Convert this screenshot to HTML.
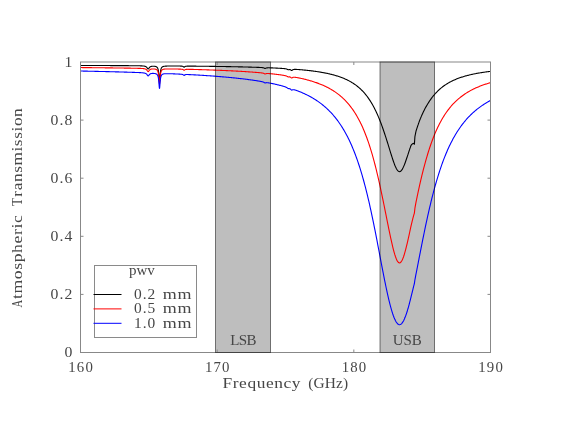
<!DOCTYPE html>
<html><head><meta charset="utf-8"><title>Atmospheric Transmission</title>
<style>html,body{margin:0;padding:0;background:#fff}body{width:564px;height:436px;overflow:hidden;font-family:"Liberation Serif",serif}</style></head>
<body>
<svg width="564" height="436" viewBox="0 0 564 436" style="display:block;will-change:transform">
<rect x="0" y="0" width="564" height="436" fill="#fff"/>
<rect x="215.5" y="62.0" width="55.0" height="290.5" fill="#bebebe"/>
<rect x="380.0" y="62.0" width="54.5" height="290.5" fill="#bebebe"/>
<path d="M80.50 65.46 L81.18 65.46 L81.87 65.47 L82.55 65.47 L83.23 65.47 L83.92 65.47 L84.60 65.48 L85.28 65.48 L85.97 65.48 L86.65 65.48 L87.33 65.48 L88.02 65.49 L88.70 65.49 L89.38 65.49 L90.07 65.49 L90.75 65.50 L91.43 65.50 L92.12 65.50 L92.80 65.50 L93.48 65.51 L94.17 65.51 L94.85 65.51 L95.53 65.51 L96.22 65.52 L96.90 65.52 L97.58 65.52 L98.27 65.53 L98.95 65.53 L99.63 65.53 L100.32 65.53 L101.00 65.54 L101.68 65.54 L102.37 65.54 L103.05 65.54 L103.73 65.55 L104.42 65.55 L105.10 65.55 L105.78 65.56 L106.47 65.56 L107.15 65.56 L107.83 65.57 L108.52 65.57 L109.20 65.57 L109.88 65.57 L110.57 65.58 L111.25 65.58 L111.93 65.58 L112.62 65.59 L113.30 65.59 L113.98 65.59 L114.67 65.60 L115.35 65.60 L116.03 65.60 L116.72 65.61 L117.40 65.61 L118.08 65.61 L118.77 65.62 L119.45 65.62 L120.13 65.62 L120.82 65.63 L121.50 65.63 L122.18 65.64 L122.87 65.64 L123.55 65.64 L124.23 65.65 L124.92 65.65 L125.60 65.66 L126.28 65.66 L126.97 65.67 L127.65 65.67 L128.33 65.67 L129.02 65.68 L129.70 65.68 L130.38 65.69 L131.07 65.70 L131.75 65.70 L132.43 65.71 L133.12 65.71 L133.80 65.72 L134.48 65.73 L135.17 65.74 L135.85 65.74 L136.53 65.75 L137.22 65.76 L137.90 65.78 L138.58 65.79 L139.27 65.80 L139.95 65.82 L140.63 65.84 L141.32 65.87 L141.45 65.87 L141.59 65.88 L141.73 65.89 L141.86 65.89 L142.00 65.90 L142.14 65.91 L142.27 65.92 L142.41 65.93 L142.55 65.94 L142.68 65.95 L142.82 65.96 L142.96 65.97 L143.09 65.98 L143.23 65.99 L143.37 66.00 L143.50 66.02 L143.64 66.03 L143.78 66.05 L143.91 66.07 L144.05 66.09 L144.19 66.11 L144.32 66.13 L144.46 66.16 L144.60 66.19 L144.73 66.22 L144.87 66.25 L145.01 66.29 L145.14 66.33 L145.28 66.37 L145.42 66.42 L145.55 66.47 L145.69 66.54 L145.83 66.60 L145.96 66.68 L146.10 66.77 L146.24 66.86 L146.37 66.97 L146.51 67.09 L146.65 67.23 L146.78 67.38 L146.92 67.55 L147.06 67.73 L147.19 67.92 L147.33 68.13 L147.47 68.33 L147.60 68.53 L147.74 68.70 L147.88 68.84 L148.01 68.93 L148.15 68.97 L148.29 68.94 L148.42 68.85 L148.56 68.72 L148.70 68.55 L148.83 68.36 L148.97 68.16 L149.11 67.96 L149.24 67.77 L149.38 67.59 L149.52 67.43 L149.65 67.29 L149.79 67.16 L149.93 67.04 L150.06 66.94 L150.20 66.85 L150.34 66.77 L150.47 66.70 L150.61 66.63 L150.75 66.58 L150.88 66.53 L151.02 66.49 L151.16 66.45 L151.29 66.41 L151.43 66.39 L151.57 66.36 L151.70 66.34 L151.84 66.32 L151.98 66.30 L152.11 66.29 L152.25 66.27 L152.39 66.26 L152.52 66.25 L152.66 66.25 L152.80 66.24 L152.93 66.24 L153.07 66.23 L153.21 66.23 L153.34 66.23 L153.48 66.24 L153.62 66.24 L153.75 66.24 L153.89 66.25 L154.03 66.26 L154.16 66.27 L154.30 66.28 L154.44 66.29 L154.57 66.30 L154.71 66.32 L154.85 66.34 L154.98 66.36 L155.12 66.38 L155.26 66.41 L155.39 66.44 L155.53 66.47 L155.67 66.51 L155.80 66.55 L155.94 66.59 L156.08 66.64 L156.21 66.70 L156.35 66.77 L156.49 66.84 L156.62 66.92 L156.76 67.02 L156.90 67.13 L157.03 67.26 L157.17 67.41 L157.31 67.58 L157.44 67.78 L157.58 68.02 L157.72 68.31 L157.85 68.66 L157.99 69.08 L158.13 69.59 L158.26 70.21 L158.40 70.99 L158.54 71.94 L158.67 73.12 L158.81 74.54 L158.95 76.19 L159.08 77.99 L159.22 79.71 L159.36 81.00 L159.49 81.49 L159.63 81.00 L159.77 79.71 L159.90 77.99 L160.04 76.19 L160.18 74.54 L160.31 73.12 L160.45 71.94 L160.59 70.99 L160.72 70.21 L160.86 69.58 L161.00 69.07 L161.13 68.65 L161.27 68.31 L161.41 68.02 L161.54 67.78 L161.68 67.57 L161.82 67.40 L161.95 67.25 L162.09 67.12 L162.23 67.01 L162.36 66.91 L162.50 66.83 L162.64 66.75 L162.77 66.69 L162.91 66.63 L163.05 66.57 L163.18 66.53 L163.32 66.48 L163.46 66.45 L163.59 66.41 L163.73 66.38 L163.87 66.35 L164.00 66.33 L164.14 66.30 L164.28 66.28 L164.41 66.26 L164.55 66.24 L164.69 66.22 L164.82 66.21 L164.96 66.19 L165.10 66.18 L165.23 66.17 L165.37 66.16 L165.51 66.15 L165.64 66.14 L165.78 66.13 L165.92 66.12 L166.05 66.11 L166.19 66.10 L166.60 66.08 L167.28 66.06 L167.97 66.04 L168.65 66.03 L169.33 66.02 L170.02 66.01 L170.70 66.01 L171.38 66.00 L172.07 66.00 L172.75 66.00 L173.43 66.00 L174.12 66.00 L174.80 66.01 L175.48 66.01 L176.17 66.02 L176.85 66.02 L177.26 66.02 L177.40 66.03 L177.53 66.03 L177.67 66.03 L177.81 66.03 L177.94 66.03 L178.08 66.03 L178.22 66.04 L178.35 66.04 L178.49 66.04 L178.63 66.04 L178.76 66.04 L178.90 66.05 L179.04 66.05 L179.17 66.05 L179.31 66.05 L179.45 66.06 L179.58 66.06 L179.72 66.06 L179.86 66.06 L179.99 66.07 L180.13 66.07 L180.27 66.08 L180.40 66.08 L180.54 66.09 L180.68 66.09 L180.81 66.10 L180.95 66.10 L181.09 66.11 L181.22 66.12 L181.36 66.13 L181.50 66.14 L181.63 66.15 L181.77 66.16 L181.91 66.18 L182.04 66.20 L182.18 66.22 L182.32 66.24 L182.45 66.27 L182.59 66.31 L182.73 66.35 L182.86 66.40 L183.00 66.46 L183.14 66.53 L183.27 66.62 L183.41 66.72 L183.55 66.84 L183.68 66.97 L183.82 67.08 L183.96 67.17 L184.09 67.20 L184.23 67.17 L184.37 67.09 L184.50 66.97 L184.64 66.85 L184.78 66.74 L184.91 66.63 L185.05 66.55 L185.19 66.48 L185.32 66.42 L185.46 66.37 L185.60 66.33 L185.73 66.30 L185.87 66.27 L186.01 66.25 L186.14 66.23 L186.28 66.21 L186.42 66.20 L186.55 66.19 L186.69 66.18 L186.83 66.17 L186.96 66.16 L187.10 66.16 L187.24 66.15 L187.37 66.15 L187.51 66.15 L187.65 66.14 L187.78 66.14 L187.92 66.14 L188.06 66.14 L188.19 66.13 L188.33 66.13 L188.47 66.13 L188.60 66.13 L188.74 66.13 L188.88 66.13 L189.01 66.13 L189.15 66.13 L189.29 66.13 L189.42 66.13 L189.56 66.13 L189.70 66.13 L189.83 66.13 L189.97 66.13 L190.11 66.13 L190.24 66.13 L190.38 66.13 L190.52 66.13 L190.65 66.13 L190.79 66.13 L191.20 66.13 L191.88 66.14 L192.57 66.14 L193.25 66.15 L193.93 66.15 L194.62 66.16 L195.30 66.17 L195.98 66.17 L196.67 66.18 L197.35 66.19 L198.03 66.19 L198.72 66.20 L199.40 66.21 L200.08 66.22 L200.77 66.22 L201.45 66.23 L202.13 66.24 L202.82 66.25 L203.50 66.25 L204.18 66.26 L204.87 66.27 L205.55 66.28 L206.23 66.29 L206.92 66.30 L207.60 66.31 L208.28 66.31 L208.97 66.32 L209.65 66.33 L210.33 66.34 L211.02 66.35 L211.70 66.36 L212.38 66.37 L213.07 66.38 L213.75 66.39 L214.43 66.40 L215.12 66.41 L215.80 66.42 L216.48 66.43 L217.17 66.44 L217.85 66.45 L218.53 66.46 L219.22 66.47 L219.90 66.48 L220.58 66.49 L221.27 66.50 L221.95 66.52 L222.63 66.53 L223.32 66.54 L224.00 66.55 L224.68 66.56 L225.37 66.57 L226.05 66.59 L226.73 66.60 L227.42 66.61 L228.10 66.62 L228.78 66.64 L229.47 66.65 L230.15 66.66 L230.83 66.67 L231.52 66.69 L232.20 66.70 L232.88 66.71 L233.57 66.73 L234.25 66.74 L234.93 66.76 L235.62 66.77 L236.30 66.79 L236.98 66.80 L237.67 66.81 L238.35 66.83 L239.03 66.84 L239.72 66.86 L240.40 66.88 L241.08 66.89 L241.77 66.91 L242.45 66.92 L243.13 66.94 L243.82 66.96 L244.50 66.97 L245.18 66.99 L245.87 67.01 L246.55 67.03 L247.23 67.04 L247.92 67.06 L248.60 67.08 L249.28 67.10 L249.97 67.12 L250.65 67.14 L251.33 67.16 L252.02 67.18 L252.70 67.20 L253.38 67.22 L254.07 67.24 L254.75 67.26 L255.43 67.28 L256.12 67.31 L256.80 67.33 L257.48 67.35 L258.17 67.38 L258.30 67.38 L258.44 67.39 L258.58 67.40 L258.71 67.40 L258.85 67.41 L258.99 67.41 L259.12 67.42 L259.26 67.42 L259.40 67.43 L259.53 67.44 L259.67 67.44 L259.81 67.45 L259.94 67.45 L260.08 67.46 L260.22 67.47 L260.35 67.48 L260.49 67.48 L260.63 67.49 L260.76 67.50 L260.90 67.51 L261.04 67.51 L261.17 67.52 L261.31 67.53 L261.45 67.54 L261.58 67.55 L261.72 67.56 L261.86 67.57 L261.99 67.59 L262.13 67.60 L262.27 67.61 L262.40 67.63 L262.54 67.65 L262.68 67.67 L262.81 67.69 L262.95 67.71 L263.09 67.74 L263.22 67.77 L263.36 67.80 L263.50 67.84 L263.63 67.88 L263.77 67.93 L263.91 67.98 L264.04 68.04 L264.18 68.11 L264.32 68.18 L264.45 68.26 L264.59 68.33 L264.73 68.39 L264.86 68.43 L265.00 68.45 L265.14 68.44 L265.27 68.41 L265.41 68.36 L265.55 68.30 L265.68 68.24 L265.82 68.17 L265.96 68.12 L266.09 68.06 L266.23 68.02 L266.37 67.98 L266.50 67.95 L266.64 67.92 L266.78 67.90 L266.91 67.88 L267.05 67.86 L267.19 67.85 L267.32 67.84 L267.46 67.83 L267.60 67.83 L267.73 67.82 L267.87 67.82 L268.01 67.81 L268.14 67.81 L268.28 67.81 L268.42 67.81 L268.55 67.81 L268.69 67.81 L268.83 67.81 L268.96 67.81 L269.10 67.81 L269.24 67.82 L269.37 67.82 L269.51 67.82 L269.65 67.83 L269.78 67.83 L269.92 67.83 L270.06 67.84 L270.19 67.84 L270.33 67.84 L270.47 67.85 L270.60 67.85 L270.74 67.86 L270.88 67.86 L271.01 67.87 L271.15 67.87 L271.29 67.88 L271.42 67.88 L271.56 67.89 L271.70 67.89 L271.83 67.90 L272.52 67.92 L273.20 67.95 L273.88 67.98 L274.57 68.01 L275.25 68.04 L275.93 68.08 L276.62 68.11 L277.30 68.15 L277.98 68.18 L278.67 68.22 L279.35 68.26 L280.03 68.30 L280.72 68.34 L281.40 68.38 L281.54 68.39 L281.67 68.40 L281.81 68.41 L281.95 68.42 L282.08 68.43 L282.22 68.44 L282.36 68.45 L282.49 68.46 L282.63 68.47 L282.77 68.48 L282.90 68.49 L283.04 68.50 L283.18 68.51 L283.31 68.52 L283.45 68.53 L283.59 68.55 L283.72 68.56 L283.86 68.57 L284.00 68.59 L284.13 68.60 L284.27 68.61 L284.41 68.63 L284.54 68.64 L284.68 68.66 L284.82 68.68 L284.95 68.70 L285.09 68.71 L285.23 68.73 L285.36 68.76 L285.50 68.78 L285.64 68.80 L285.77 68.83 L285.91 68.86 L286.05 68.89 L286.18 68.92 L286.32 68.96 L286.46 69.00 L286.59 69.04 L286.73 69.09 L286.87 69.14 L287.00 69.20 L287.14 69.26 L287.28 69.33 L287.41 69.40 L287.55 69.47 L287.69 69.53 L287.82 69.59 L287.96 69.65 L288.10 69.69 L288.23 69.72 L288.37 69.73 L288.51 69.72 L288.64 69.71 L288.78 69.68 L288.92 69.65 L289.05 69.63 L289.19 69.60 L289.33 69.58 L289.46 69.57 L289.60 69.56 L289.74 69.57 L289.87 69.58 L290.01 69.60 L290.15 69.64 L290.28 69.68 L290.42 69.74 L290.56 69.81 L290.69 69.90 L290.83 70.00 L290.97 70.10 L291.10 70.21 L291.24 70.32 L291.38 70.41 L291.51 70.47 L291.65 70.49 L291.79 70.47 L291.92 70.42 L292.06 70.33 L292.20 70.22 L292.33 70.11 L292.47 70.01 L292.61 69.91 L292.74 69.82 L292.88 69.74 L293.02 69.68 L293.15 69.62 L293.29 69.57 L293.43 69.54 L293.56 69.50 L293.70 69.48 L293.84 69.45 L293.97 69.43 L294.11 69.42 L294.25 69.41 L294.38 69.40 L294.52 69.39 L294.66 69.39 L294.79 69.38 L294.93 69.38 L295.07 69.38 L295.20 69.38 L295.34 69.38 L295.48 69.38 L295.61 69.39 L295.75 69.39 L295.89 69.39 L296.02 69.40 L296.16 69.40 L296.30 69.41 L296.43 69.42 L296.57 69.42 L296.71 69.43 L296.84 69.44 L296.98 69.44 L297.12 69.45 L297.25 69.46 L297.39 69.47 L297.53 69.48 L297.66 69.49 L297.80 69.49 L297.94 69.50 L298.07 69.51 L298.21 69.52 L298.35 69.53 L298.48 69.54 L299.17 69.59 L299.85 69.65 L300.53 69.70 L301.22 69.76 L301.90 69.82 L302.58 69.88 L303.27 69.94 L303.95 70.01 L304.63 70.08 L305.32 70.14 L306.00 70.21 L306.68 70.29 L307.37 70.36 L308.05 70.43 L308.73 70.51 L309.42 70.59 L310.10 70.67 L310.78 70.75 L311.47 70.84 L312.15 70.92 L312.83 71.01 L313.52 71.10 L314.20 71.19 L314.88 71.28 L315.57 71.38 L316.25 71.48 L316.93 71.58 L317.62 71.68 L318.30 71.79 L318.98 71.89 L319.67 72.00 L320.35 72.12 L321.03 72.23 L321.72 72.35 L322.40 72.47 L323.08 72.60 L323.77 72.72 L324.45 72.85 L325.13 72.99 L325.82 73.12 L326.50 73.26 L327.18 73.41 L327.87 73.55 L328.55 73.71 L329.23 73.86 L329.92 74.02 L330.60 74.18 L331.28 74.35 L331.97 74.52 L332.65 74.70 L333.33 74.88 L334.02 75.07 L334.70 75.26 L335.38 75.46 L336.07 75.66 L336.75 75.87 L337.43 76.08 L338.12 76.30 L338.80 76.53 L339.48 76.77 L340.17 77.01 L340.85 77.25 L341.53 77.51 L342.22 77.77 L342.90 78.04 L343.58 78.32 L344.27 78.61 L344.95 78.90 L345.63 79.21 L346.32 79.52 L347.00 79.85 L347.68 80.18 L348.37 80.53 L349.05 80.88 L349.73 81.25 L350.42 81.63 L351.10 82.02 L351.78 82.43 L352.47 82.85 L353.15 83.28 L353.83 83.73 L354.52 84.19 L355.20 84.67 L355.88 85.17 L356.57 85.68 L357.25 86.21 L357.93 86.76 L358.62 87.33 L359.30 87.92 L359.98 88.53 L360.67 89.16 L361.35 89.82 L362.03 90.50 L362.72 91.20 L363.40 91.93 L364.08 92.69 L364.77 93.47 L365.45 94.29 L366.13 95.13 L366.82 96.01 L367.50 96.91 L368.18 97.86 L368.87 98.83 L369.55 99.85 L370.23 100.90 L370.92 101.99 L371.60 103.12 L372.28 104.29 L372.97 105.50 L373.65 106.76 L374.33 108.06 L375.02 109.41 L375.70 110.81 L376.38 112.25 L377.07 113.75 L377.75 115.29 L378.43 116.89 L379.12 118.53 L379.80 120.23 L380.48 121.98 L381.17 123.78 L381.85 125.63 L382.53 127.53 L383.22 129.47 L383.90 131.47 L384.58 133.50 L385.27 135.58 L385.95 137.69 L386.63 139.84 L387.32 142.01 L388.00 144.21 L388.68 146.42 L389.37 148.64 L390.05 150.86 L390.73 153.07 L391.42 155.26 L392.10 157.40 L392.78 159.49 L393.47 161.50 L394.15 163.40 L394.83 165.19 L395.52 166.81 L396.20 168.25 L396.88 169.47 L397.57 170.44 L398.25 171.14 L398.93 171.55 L399.62 171.66 L400.30 171.45 L400.98 170.95 L401.67 170.17 L402.35 169.12 L403.03 167.85 L403.72 166.37 L404.40 164.73 L405.08 162.94 L405.77 161.04 L406.45 159.05 L407.13 157.00 L407.27 156.59 L407.41 156.18 L407.54 155.77 L407.68 155.35 L407.82 154.94 L407.95 154.52 L408.09 154.11 L408.23 153.69 L408.36 153.27 L408.50 152.85 L408.64 152.43 L408.77 152.01 L408.91 151.59 L409.05 151.16 L409.18 150.74 L409.32 150.32 L409.46 149.90 L409.59 149.47 L409.73 149.05 L409.87 148.63 L410.00 148.25 L410.14 147.87 L410.28 147.50 L410.41 147.12 L410.55 146.75 L410.69 146.37 L410.82 146.00 L410.96 145.63 L411.10 145.26 L411.23 145.09 L411.37 144.93 L411.51 144.77 L411.64 144.62 L411.78 144.46 L411.92 144.31 L412.05 144.15 L412.19 144.06 L412.33 143.96 L412.46 143.87 L412.60 143.78 L412.74 143.69 L412.87 143.60 L413.01 143.52 L413.15 143.44 L413.28 143.36 L413.42 143.28 L413.56 143.41 L413.69 143.55 L413.83 143.69 L413.97 143.84 L414.10 143.98 L414.24 144.13 L414.38 144.28 L414.51 142.38 L414.65 140.46 L414.79 138.53 L414.92 136.58 L415.06 135.89 L415.20 135.20 L415.33 134.52 L415.47 133.83 L415.61 133.14 L415.74 132.46 L415.88 131.77 L416.02 131.09 L416.15 130.66 L416.29 130.24 L416.43 129.82 L416.56 129.40 L416.70 128.98 L416.84 128.56 L416.97 128.15 L417.11 127.74 L417.25 127.32 L417.38 126.91 L417.52 126.51 L417.66 126.10 L417.79 125.70 L417.93 125.29 L418.07 124.89 L418.20 124.49 L418.34 124.10 L418.48 123.70 L418.61 123.31 L418.75 122.92 L418.89 122.53 L419.02 122.14 L419.16 121.75 L419.30 121.37 L419.43 120.99 L419.57 120.64 L419.71 120.29 L419.84 119.95 L419.98 119.61 L420.12 119.27 L420.25 118.94 L420.39 118.60 L420.53 118.27 L420.66 117.94 L420.80 117.61 L420.94 117.28 L421.07 116.96 L421.21 116.64 L421.35 116.32 L421.48 116.00 L421.62 115.68 L421.76 115.36 L421.89 115.05 L422.03 114.74 L422.17 114.43 L422.85 112.97 L423.53 111.56 L424.22 110.19 L424.90 108.87 L425.58 107.60 L426.27 106.36 L426.95 105.17 L427.63 104.02 L428.32 102.92 L429.00 101.85 L429.68 100.81 L430.37 99.82 L431.05 98.85 L431.73 97.93 L432.42 97.03 L433.10 96.17 L433.78 95.33 L434.47 94.53 L435.15 93.75 L435.83 93.00 L436.52 92.28 L437.20 91.58 L437.88 90.91 L438.57 90.26 L439.25 89.63 L439.93 89.02 L440.62 88.43 L441.30 87.87 L441.98 87.32 L442.67 86.79 L443.35 86.28 L444.03 85.78 L444.72 85.30 L445.40 84.84 L446.08 84.39 L446.77 83.95 L447.45 83.53 L448.13 83.12 L448.82 82.73 L449.50 82.35 L450.18 81.98 L450.87 81.62 L451.55 81.27 L452.23 80.93 L452.92 80.60 L453.60 80.29 L454.28 79.98 L454.97 79.68 L455.65 79.39 L456.33 79.11 L457.02 78.83 L457.70 78.56 L458.38 78.31 L459.07 78.05 L459.75 77.81 L460.43 77.57 L461.12 77.34 L461.80 77.12 L462.48 76.90 L463.17 76.69 L463.85 76.48 L464.53 76.28 L465.22 76.08 L465.90 75.89 L466.58 75.70 L467.27 75.52 L467.95 75.35 L468.63 75.17 L469.32 75.01 L470.00 74.84 L470.68 74.68 L471.37 74.53 L472.05 74.37 L472.73 74.23 L473.42 74.08 L474.10 73.94 L474.78 73.80 L475.47 73.67 L476.15 73.54 L476.83 73.41 L477.52 73.28 L478.20 73.16 L478.88 73.04 L479.57 72.93 L480.25 72.81 L480.93 72.70 L481.62 72.59 L482.30 72.48 L482.98 72.38 L483.67 72.28 L484.35 72.18 L485.03 72.08 L485.72 71.98 L486.40 71.89 L487.08 71.80 L487.77 71.71 L488.45 71.62 L489.13 71.53 L489.82 71.45 L490.50 71.37" fill="none" stroke="#000" stroke-width="1.1" stroke-linejoin="round"/>
<path d="M80.50 67.56 L81.18 67.57 L81.87 67.57 L82.55 67.58 L83.23 67.59 L83.92 67.59 L84.60 67.60 L85.28 67.61 L85.97 67.62 L86.65 67.62 L87.33 67.63 L88.02 67.64 L88.70 67.64 L89.38 67.65 L90.07 67.66 L90.75 67.66 L91.43 67.67 L92.12 67.68 L92.80 67.69 L93.48 67.69 L94.17 67.70 L94.85 67.71 L95.53 67.72 L96.22 67.72 L96.90 67.73 L97.58 67.74 L98.27 67.75 L98.95 67.75 L99.63 67.76 L100.32 67.77 L101.00 67.78 L101.68 67.79 L102.37 67.79 L103.05 67.80 L103.73 67.81 L104.42 67.82 L105.10 67.83 L105.78 67.83 L106.47 67.84 L107.15 67.85 L107.83 67.86 L108.52 67.87 L109.20 67.87 L109.88 67.88 L110.57 67.89 L111.25 67.90 L111.93 67.91 L112.62 67.92 L113.30 67.93 L113.98 67.94 L114.67 67.94 L115.35 67.95 L116.03 67.96 L116.72 67.97 L117.40 67.98 L118.08 67.99 L118.77 68.00 L119.45 68.01 L120.13 68.02 L120.82 68.03 L121.50 68.04 L122.18 68.05 L122.87 68.06 L123.55 68.07 L124.23 68.08 L124.92 68.09 L125.60 68.10 L126.28 68.11 L126.97 68.12 L127.65 68.13 L128.33 68.14 L129.02 68.15 L129.70 68.16 L130.38 68.17 L131.07 68.19 L131.75 68.20 L132.43 68.21 L133.12 68.22 L133.80 68.24 L134.48 68.25 L135.17 68.26 L135.85 68.28 L136.53 68.29 L137.22 68.31 L137.90 68.33 L138.58 68.35 L139.27 68.37 L139.95 68.40 L140.63 68.42 L141.32 68.46 L141.45 68.46 L141.59 68.47 L141.73 68.48 L141.86 68.49 L142.00 68.50 L142.14 68.51 L142.27 68.51 L142.41 68.52 L142.55 68.54 L142.68 68.55 L142.82 68.56 L142.96 68.57 L143.09 68.58 L143.23 68.60 L143.37 68.61 L143.50 68.63 L143.64 68.64 L143.78 68.66 L143.91 68.68 L144.05 68.70 L144.19 68.72 L144.32 68.75 L144.46 68.78 L144.60 68.80 L144.73 68.84 L144.87 68.87 L145.01 68.91 L145.14 68.95 L145.28 68.99 L145.42 69.04 L145.55 69.10 L145.69 69.16 L145.83 69.23 L145.96 69.31 L146.10 69.40 L146.24 69.49 L146.37 69.60 L146.51 69.72 L146.65 69.86 L146.78 70.01 L146.92 70.18 L147.06 70.36 L147.19 70.55 L147.33 70.76 L147.47 70.96 L147.60 71.16 L147.74 71.33 L147.88 71.47 L148.01 71.56 L148.15 71.60 L148.29 71.57 L148.42 71.49 L148.56 71.35 L148.70 71.19 L148.83 71.00 L148.97 70.80 L149.11 70.61 L149.24 70.42 L149.38 70.25 L149.52 70.09 L149.65 69.95 L149.79 69.82 L149.93 69.71 L150.06 69.61 L150.20 69.52 L150.34 69.44 L150.47 69.37 L150.61 69.31 L150.75 69.26 L150.88 69.21 L151.02 69.17 L151.16 69.13 L151.29 69.10 L151.43 69.08 L151.57 69.05 L151.70 69.03 L151.84 69.01 L151.98 69.00 L152.11 68.98 L152.25 68.97 L152.39 68.96 L152.52 68.96 L152.66 68.95 L152.80 68.95 L152.93 68.95 L153.07 68.94 L153.21 68.94 L153.34 68.95 L153.48 68.95 L153.62 68.96 L153.75 68.96 L153.89 68.97 L154.03 68.98 L154.16 68.99 L154.30 69.00 L154.44 69.01 L154.57 69.03 L154.71 69.05 L154.85 69.07 L154.98 69.09 L155.12 69.11 L155.26 69.14 L155.39 69.17 L155.53 69.21 L155.67 69.24 L155.80 69.28 L155.94 69.33 L156.08 69.38 L156.21 69.44 L156.35 69.51 L156.49 69.58 L156.62 69.67 L156.76 69.77 L156.90 69.88 L157.03 70.00 L157.17 70.15 L157.31 70.33 L157.44 70.53 L157.58 70.77 L157.72 71.06 L157.85 71.40 L157.99 71.82 L158.13 72.32 L158.26 72.95 L158.40 73.71 L158.54 74.66 L158.67 75.83 L158.81 77.23 L158.95 78.87 L159.08 80.65 L159.22 82.36 L159.36 83.64 L159.49 84.13 L159.63 83.65 L159.77 82.37 L159.90 80.66 L160.04 78.88 L160.18 77.25 L160.31 75.84 L160.45 74.68 L160.59 73.74 L160.72 72.97 L160.86 72.35 L161.00 71.85 L161.13 71.44 L161.27 71.09 L161.41 70.81 L161.54 70.57 L161.68 70.37 L161.82 70.20 L161.95 70.06 L162.09 69.93 L162.23 69.82 L162.36 69.73 L162.50 69.64 L162.64 69.57 L162.77 69.51 L162.91 69.45 L163.05 69.40 L163.18 69.35 L163.32 69.31 L163.46 69.28 L163.59 69.24 L163.73 69.22 L163.87 69.19 L164.00 69.16 L164.14 69.14 L164.28 69.12 L164.41 69.10 L164.55 69.09 L164.69 69.07 L164.82 69.06 L164.96 69.05 L165.10 69.04 L165.23 69.03 L165.37 69.02 L165.51 69.01 L165.64 69.00 L165.78 68.99 L165.92 68.98 L166.05 68.98 L166.19 68.97 L166.60 68.96 L167.28 68.94 L167.97 68.93 L168.65 68.93 L169.33 68.93 L170.02 68.93 L170.70 68.94 L171.38 68.94 L172.07 68.95 L172.75 68.96 L173.43 68.97 L174.12 68.98 L174.80 68.99 L175.48 69.01 L176.17 69.02 L176.85 69.04 L177.26 69.05 L177.40 69.05 L177.53 69.05 L177.67 69.06 L177.81 69.06 L177.94 69.06 L178.08 69.07 L178.22 69.07 L178.35 69.08 L178.49 69.08 L178.63 69.08 L178.76 69.09 L178.90 69.09 L179.04 69.10 L179.17 69.10 L179.31 69.10 L179.45 69.11 L179.58 69.11 L179.72 69.12 L179.86 69.12 L179.99 69.13 L180.13 69.14 L180.27 69.14 L180.40 69.15 L180.54 69.16 L180.68 69.16 L180.81 69.17 L180.95 69.18 L181.09 69.19 L181.22 69.20 L181.36 69.21 L181.50 69.22 L181.63 69.24 L181.77 69.25 L181.91 69.27 L182.04 69.29 L182.18 69.31 L182.32 69.34 L182.45 69.37 L182.59 69.40 L182.73 69.45 L182.86 69.50 L183.00 69.56 L183.14 69.64 L183.27 69.73 L183.41 69.83 L183.55 69.95 L183.68 70.08 L183.82 70.19 L183.96 70.28 L184.09 70.31 L184.23 70.28 L184.37 70.20 L184.50 70.09 L184.64 69.98 L184.78 69.86 L184.91 69.77 L185.05 69.68 L185.19 69.61 L185.32 69.56 L185.46 69.51 L185.60 69.48 L185.73 69.45 L185.87 69.42 L186.01 69.40 L186.14 69.39 L186.28 69.37 L186.42 69.36 L186.55 69.35 L186.69 69.35 L186.83 69.34 L186.96 69.34 L187.10 69.33 L187.24 69.33 L187.37 69.33 L187.51 69.33 L187.65 69.32 L187.78 69.32 L187.92 69.32 L188.06 69.32 L188.19 69.32 L188.33 69.33 L188.47 69.33 L188.60 69.33 L188.74 69.33 L188.88 69.33 L189.01 69.33 L189.15 69.33 L189.29 69.34 L189.42 69.34 L189.56 69.34 L189.70 69.34 L189.83 69.35 L189.97 69.35 L190.11 69.35 L190.24 69.35 L190.38 69.36 L190.52 69.36 L190.65 69.36 L190.79 69.37 L191.20 69.37 L191.88 69.39 L192.57 69.41 L193.25 69.42 L193.93 69.44 L194.62 69.46 L195.30 69.48 L195.98 69.50 L196.67 69.52 L197.35 69.54 L198.03 69.56 L198.72 69.58 L199.40 69.60 L200.08 69.62 L200.77 69.64 L201.45 69.66 L202.13 69.68 L202.82 69.70 L203.50 69.72 L204.18 69.75 L204.87 69.77 L205.55 69.79 L206.23 69.81 L206.92 69.84 L207.60 69.86 L208.28 69.88 L208.97 69.91 L209.65 69.93 L210.33 69.95 L211.02 69.98 L211.70 70.00 L212.38 70.03 L213.07 70.05 L213.75 70.08 L214.43 70.10 L215.12 70.13 L215.80 70.16 L216.48 70.18 L217.17 70.21 L217.85 70.24 L218.53 70.26 L219.22 70.29 L219.90 70.32 L220.58 70.35 L221.27 70.38 L221.95 70.41 L222.63 70.43 L223.32 70.46 L224.00 70.49 L224.68 70.52 L225.37 70.55 L226.05 70.59 L226.73 70.62 L227.42 70.65 L228.10 70.68 L228.78 70.71 L229.47 70.74 L230.15 70.78 L230.83 70.81 L231.52 70.85 L232.20 70.88 L232.88 70.91 L233.57 70.95 L234.25 70.98 L234.93 71.02 L235.62 71.06 L236.30 71.09 L236.98 71.13 L237.67 71.17 L238.35 71.21 L239.03 71.24 L239.72 71.28 L240.40 71.32 L241.08 71.36 L241.77 71.40 L242.45 71.44 L243.13 71.48 L243.82 71.53 L244.50 71.57 L245.18 71.61 L245.87 71.66 L246.55 71.70 L247.23 71.74 L247.92 71.79 L248.60 71.84 L249.28 71.88 L249.97 71.93 L250.65 71.98 L251.33 72.03 L252.02 72.07 L252.70 72.12 L253.38 72.18 L254.07 72.23 L254.75 72.28 L255.43 72.33 L256.12 72.39 L256.80 72.44 L257.48 72.50 L258.17 72.56 L258.30 72.57 L258.44 72.58 L258.58 72.59 L258.71 72.61 L258.85 72.62 L258.99 72.63 L259.12 72.64 L259.26 72.66 L259.40 72.67 L259.53 72.68 L259.67 72.69 L259.81 72.71 L259.94 72.72 L260.08 72.73 L260.22 72.75 L260.35 72.76 L260.49 72.78 L260.63 72.79 L260.76 72.81 L260.90 72.82 L261.04 72.84 L261.17 72.85 L261.31 72.87 L261.45 72.88 L261.58 72.90 L261.72 72.92 L261.86 72.94 L261.99 72.96 L262.13 72.98 L262.27 73.00 L262.40 73.02 L262.54 73.05 L262.68 73.07 L262.81 73.10 L262.95 73.13 L263.09 73.16 L263.22 73.20 L263.36 73.24 L263.50 73.28 L263.63 73.33 L263.77 73.39 L263.91 73.45 L264.04 73.52 L264.18 73.59 L264.32 73.67 L264.45 73.75 L264.59 73.83 L264.73 73.89 L264.86 73.94 L265.00 73.97 L265.14 73.97 L265.27 73.94 L265.41 73.90 L265.55 73.85 L265.68 73.80 L265.82 73.74 L265.96 73.70 L266.09 73.65 L266.23 73.62 L266.37 73.59 L266.50 73.56 L266.64 73.54 L266.78 73.53 L266.91 73.52 L267.05 73.51 L267.19 73.51 L267.32 73.51 L267.46 73.50 L267.60 73.51 L267.73 73.51 L267.87 73.51 L268.01 73.52 L268.14 73.52 L268.28 73.53 L268.42 73.54 L268.55 73.55 L268.69 73.56 L268.83 73.57 L268.96 73.58 L269.10 73.59 L269.24 73.60 L269.37 73.61 L269.51 73.62 L269.65 73.63 L269.78 73.64 L269.92 73.66 L270.06 73.67 L270.19 73.68 L270.33 73.69 L270.47 73.71 L270.60 73.72 L270.74 73.73 L270.88 73.74 L271.01 73.76 L271.15 73.77 L271.29 73.78 L271.42 73.80 L271.56 73.81 L271.70 73.83 L271.83 73.84 L272.52 73.91 L273.20 73.98 L273.88 74.06 L274.57 74.14 L275.25 74.22 L275.93 74.30 L276.62 74.38 L277.30 74.46 L277.98 74.55 L278.67 74.64 L279.35 74.73 L280.03 74.82 L280.72 74.91 L281.40 75.01 L281.54 75.03 L281.67 75.05 L281.81 75.07 L281.95 75.09 L282.08 75.11 L282.22 75.13 L282.36 75.15 L282.49 75.17 L282.63 75.20 L282.77 75.22 L282.90 75.24 L283.04 75.26 L283.18 75.28 L283.31 75.31 L283.45 75.33 L283.59 75.35 L283.72 75.38 L283.86 75.40 L284.00 75.43 L284.13 75.45 L284.27 75.48 L284.41 75.50 L284.54 75.53 L284.68 75.56 L284.82 75.59 L284.95 75.62 L285.09 75.65 L285.23 75.68 L285.36 75.71 L285.50 75.75 L285.64 75.78 L285.77 75.82 L285.91 75.86 L286.05 75.90 L286.18 75.95 L286.32 76.00 L286.46 76.05 L286.59 76.10 L286.73 76.16 L286.87 76.23 L287.00 76.30 L287.14 76.37 L287.28 76.44 L287.41 76.52 L287.55 76.60 L287.69 76.68 L287.82 76.76 L287.96 76.82 L288.10 76.87 L288.23 76.91 L288.37 76.94 L288.51 76.94 L288.64 76.94 L288.78 76.93 L288.92 76.92 L289.05 76.90 L289.19 76.89 L289.33 76.89 L289.46 76.89 L289.60 76.90 L289.74 76.91 L289.87 76.94 L290.01 76.98 L290.15 77.02 L290.28 77.08 L290.42 77.15 L290.56 77.24 L290.69 77.33 L290.83 77.44 L290.97 77.56 L291.10 77.68 L291.24 77.80 L291.38 77.90 L291.51 77.97 L291.65 78.01 L291.79 78.01 L291.92 77.96 L292.06 77.89 L292.20 77.81 L292.33 77.71 L292.47 77.62 L292.61 77.54 L292.74 77.47 L292.88 77.41 L293.02 77.36 L293.15 77.32 L293.29 77.29 L293.43 77.27 L293.56 77.25 L293.70 77.24 L293.84 77.23 L293.97 77.23 L294.11 77.23 L294.25 77.23 L294.38 77.24 L294.52 77.25 L294.66 77.26 L294.79 77.27 L294.93 77.28 L295.07 77.30 L295.20 77.31 L295.34 77.33 L295.48 77.35 L295.61 77.37 L295.75 77.39 L295.89 77.41 L296.02 77.43 L296.16 77.45 L296.30 77.47 L296.43 77.49 L296.57 77.51 L296.71 77.54 L296.84 77.56 L296.98 77.58 L297.12 77.61 L297.25 77.63 L297.39 77.66 L297.53 77.68 L297.66 77.71 L297.80 77.73 L297.94 77.76 L298.07 77.78 L298.21 77.81 L298.35 77.84 L298.48 77.86 L299.17 78.00 L299.85 78.14 L300.53 78.28 L301.22 78.43 L301.90 78.58 L302.58 78.74 L303.27 78.89 L303.95 79.05 L304.63 79.22 L305.32 79.39 L306.00 79.56 L306.68 79.74 L307.37 79.92 L308.05 80.10 L308.73 80.29 L309.42 80.48 L310.10 80.67 L310.78 80.87 L311.47 81.08 L312.15 81.29 L312.83 81.50 L313.52 81.71 L314.20 81.94 L314.88 82.16 L315.57 82.40 L316.25 82.63 L316.93 82.88 L317.62 83.12 L318.30 83.38 L318.98 83.64 L319.67 83.90 L320.35 84.17 L321.03 84.45 L321.72 84.73 L322.40 85.02 L323.08 85.32 L323.77 85.62 L324.45 85.94 L325.13 86.26 L325.82 86.58 L326.50 86.92 L327.18 87.26 L327.87 87.61 L328.55 87.97 L329.23 88.34 L329.92 88.72 L330.60 89.11 L331.28 89.51 L331.97 89.92 L332.65 90.33 L333.33 90.76 L334.02 91.21 L334.70 91.66 L335.38 92.12 L336.07 92.60 L336.75 93.09 L337.43 93.59 L338.12 94.11 L338.80 94.64 L339.48 95.19 L340.17 95.75 L340.85 96.33 L341.53 96.92 L342.22 97.53 L342.90 98.16 L343.58 98.80 L344.27 99.47 L344.95 100.15 L345.63 100.86 L346.32 101.58 L347.00 102.33 L347.68 103.09 L348.37 103.89 L349.05 104.70 L349.73 105.54 L350.42 106.41 L351.10 107.30 L351.78 108.22 L352.47 109.17 L353.15 110.14 L353.83 111.15 L354.52 112.19 L355.20 113.26 L355.88 114.37 L356.57 115.51 L357.25 116.69 L357.93 117.91 L358.62 119.16 L359.30 120.46 L359.98 121.80 L360.67 123.18 L361.35 124.60 L362.03 126.07 L362.72 127.59 L363.40 129.16 L364.08 130.78 L364.77 132.45 L365.45 134.18 L366.13 135.96 L366.82 137.79 L367.50 139.69 L368.18 141.64 L368.87 143.66 L369.55 145.74 L370.23 147.88 L370.92 150.09 L371.60 152.37 L372.28 154.71 L372.97 157.12 L373.65 159.60 L374.33 162.15 L375.02 164.76 L375.70 167.45 L376.38 170.21 L377.07 173.03 L377.75 175.92 L378.43 178.87 L379.12 181.89 L379.80 184.97 L380.48 188.10 L381.17 191.29 L381.85 194.53 L382.53 197.82 L383.22 201.14 L383.90 204.50 L384.58 207.88 L385.27 211.29 L385.95 214.70 L386.63 218.12 L387.32 221.53 L388.00 224.92 L388.68 228.29 L389.37 231.61 L390.05 234.87 L390.73 238.07 L391.42 241.17 L392.10 244.17 L392.78 247.05 L393.47 249.77 L394.15 252.32 L394.83 254.66 L395.52 256.77 L396.20 258.61 L396.88 260.16 L397.57 261.39 L398.25 262.26 L398.93 262.77 L399.62 262.90 L400.30 262.64 L400.98 262.02 L401.67 261.04 L402.35 259.73 L403.03 258.11 L403.72 256.21 L404.40 254.07 L405.08 251.71 L405.77 249.17 L406.45 246.46 L407.13 243.62 L407.27 243.04 L407.41 242.46 L407.54 241.87 L407.68 241.28 L407.82 240.68 L407.95 240.08 L408.09 239.48 L408.23 238.87 L408.36 238.26 L408.50 237.65 L408.64 237.03 L408.77 236.41 L408.91 235.79 L409.05 235.16 L409.18 234.53 L409.32 233.90 L409.46 233.27 L409.59 232.64 L409.73 232.00 L409.87 231.36 L410.00 230.73 L410.14 230.10 L410.28 229.48 L410.41 228.84 L410.55 228.21 L410.69 227.58 L410.82 226.94 L410.96 226.31 L411.10 225.67 L411.23 225.11 L411.37 224.54 L411.51 223.97 L411.64 223.40 L411.78 222.84 L411.92 222.27 L412.05 221.70 L412.19 221.16 L412.33 220.61 L412.46 220.07 L412.60 219.52 L412.74 218.98 L412.87 218.43 L413.01 217.89 L413.15 217.35 L413.28 216.81 L413.42 216.27 L413.56 215.81 L413.69 215.35 L413.83 214.89 L413.97 214.44 L414.10 213.99 L414.24 213.54 L414.38 213.09 L414.51 211.88 L414.65 210.67 L414.79 209.45 L414.92 208.23 L415.06 207.47 L415.20 206.71 L415.33 205.95 L415.47 205.19 L415.61 204.42 L415.74 203.66 L415.88 202.90 L416.02 202.14 L416.15 201.48 L416.29 200.82 L416.43 200.16 L416.56 199.50 L416.70 198.84 L416.84 198.19 L416.97 197.53 L417.11 196.88 L417.25 196.23 L417.38 195.58 L417.52 194.93 L417.66 194.28 L417.79 193.64 L417.93 192.99 L418.07 192.35 L418.20 191.71 L418.34 191.07 L418.48 190.44 L418.61 189.80 L418.75 189.17 L418.89 188.54 L419.02 187.91 L419.16 187.29 L419.30 186.66 L419.43 186.04 L419.57 185.43 L419.71 184.83 L419.84 184.23 L419.98 183.63 L420.12 183.03 L420.25 182.43 L420.39 181.84 L420.53 181.25 L420.66 180.66 L420.80 180.08 L420.94 179.49 L421.07 178.91 L421.21 178.33 L421.35 177.76 L421.48 177.18 L421.62 176.61 L421.76 176.05 L421.89 175.48 L422.03 174.92 L422.17 174.35 L422.85 171.61 L423.53 168.93 L424.22 166.32 L424.90 163.78 L425.58 161.30 L426.27 158.88 L426.95 156.54 L427.63 154.25 L428.32 152.03 L429.00 149.88 L429.68 147.79 L430.37 145.75 L431.05 143.78 L431.73 141.87 L432.42 140.01 L433.10 138.21 L433.78 136.47 L434.47 134.78 L435.15 133.13 L435.83 131.54 L436.52 130.00 L437.20 128.51 L437.88 127.06 L438.57 125.65 L439.25 124.29 L439.93 122.97 L440.62 121.69 L441.30 120.45 L441.98 119.25 L442.67 118.08 L443.35 116.95 L444.03 115.86 L444.72 114.79 L445.40 113.76 L446.08 112.76 L446.77 111.79 L447.45 110.84 L448.13 109.93 L448.82 109.04 L449.50 108.18 L450.18 107.34 L450.87 106.52 L451.55 105.73 L452.23 104.97 L452.92 104.22 L453.60 103.49 L454.28 102.79 L454.97 102.10 L455.65 101.44 L456.33 100.79 L457.02 100.16 L457.70 99.55 L458.38 98.95 L459.07 98.37 L459.75 97.80 L460.43 97.25 L461.12 96.72 L461.80 96.20 L462.48 95.69 L463.17 95.20 L463.85 94.71 L464.53 94.24 L465.22 93.79 L465.90 93.34 L466.58 92.90 L467.27 92.48 L467.95 92.07 L468.63 91.66 L469.32 91.27 L470.00 90.88 L470.68 90.51 L471.37 90.14 L472.05 89.79 L472.73 89.44 L473.42 89.10 L474.10 88.76 L474.78 88.44 L475.47 88.12 L476.15 87.81 L476.83 87.51 L477.52 87.21 L478.20 86.92 L478.88 86.64 L479.57 86.36 L480.25 86.09 L480.93 85.83 L481.62 85.57 L482.30 85.31 L482.98 85.06 L483.67 84.82 L484.35 84.58 L485.03 84.35 L485.72 84.12 L486.40 83.90 L487.08 83.68 L487.77 83.47 L488.45 83.26 L489.13 83.05 L489.82 82.85 L490.50 82.66" fill="none" stroke="#f00" stroke-width="1.1" stroke-linejoin="round"/>
<path d="M80.50 71.03 L81.18 71.04 L81.87 71.05 L82.55 71.07 L83.23 71.08 L83.92 71.10 L84.60 71.11 L85.28 71.13 L85.97 71.14 L86.65 71.15 L87.33 71.17 L88.02 71.18 L88.70 71.20 L89.38 71.21 L90.07 71.23 L90.75 71.24 L91.43 71.26 L92.12 71.27 L92.80 71.29 L93.48 71.30 L94.17 71.32 L94.85 71.33 L95.53 71.35 L96.22 71.36 L96.90 71.38 L97.58 71.40 L98.27 71.41 L98.95 71.43 L99.63 71.44 L100.32 71.46 L101.00 71.47 L101.68 71.49 L102.37 71.51 L103.05 71.52 L103.73 71.54 L104.42 71.56 L105.10 71.57 L105.78 71.59 L106.47 71.61 L107.15 71.62 L107.83 71.64 L108.52 71.66 L109.20 71.67 L109.88 71.69 L110.57 71.71 L111.25 71.73 L111.93 71.74 L112.62 71.76 L113.30 71.78 L113.98 71.80 L114.67 71.81 L115.35 71.83 L116.03 71.85 L116.72 71.87 L117.40 71.89 L118.08 71.90 L118.77 71.92 L119.45 71.94 L120.13 71.96 L120.82 71.98 L121.50 72.00 L122.18 72.02 L122.87 72.04 L123.55 72.06 L124.23 72.08 L124.92 72.10 L125.60 72.12 L126.28 72.14 L126.97 72.16 L127.65 72.18 L128.33 72.20 L129.02 72.22 L129.70 72.24 L130.38 72.26 L131.07 72.29 L131.75 72.31 L132.43 72.33 L133.12 72.35 L133.80 72.38 L134.48 72.40 L135.17 72.43 L135.85 72.45 L136.53 72.48 L137.22 72.51 L137.90 72.54 L138.58 72.57 L139.27 72.60 L139.95 72.63 L140.63 72.67 L141.32 72.72 L141.45 72.73 L141.59 72.74 L141.73 72.75 L141.86 72.76 L142.00 72.77 L142.14 72.78 L142.27 72.79 L142.41 72.80 L142.55 72.81 L142.68 72.83 L142.82 72.84 L142.96 72.86 L143.09 72.87 L143.23 72.89 L143.37 72.90 L143.50 72.92 L143.64 72.94 L143.78 72.96 L143.91 72.98 L144.05 73.01 L144.19 73.03 L144.32 73.06 L144.46 73.08 L144.60 73.12 L144.73 73.15 L144.87 73.18 L145.01 73.22 L145.14 73.27 L145.28 73.31 L145.42 73.37 L145.55 73.42 L145.69 73.49 L145.83 73.56 L145.96 73.64 L146.10 73.72 L146.24 73.82 L146.37 73.93 L146.51 74.05 L146.65 74.19 L146.78 74.34 L146.92 74.51 L147.06 74.69 L147.19 74.88 L147.33 75.08 L147.47 75.29 L147.60 75.48 L147.74 75.66 L147.88 75.80 L148.01 75.89 L148.15 75.93 L148.29 75.90 L148.42 75.82 L148.56 75.69 L148.70 75.53 L148.83 75.35 L148.97 75.16 L149.11 74.97 L149.24 74.79 L149.38 74.62 L149.52 74.47 L149.65 74.33 L149.79 74.21 L149.93 74.10 L150.06 74.00 L150.20 73.92 L150.34 73.84 L150.47 73.78 L150.61 73.72 L150.75 73.67 L150.88 73.63 L151.02 73.59 L151.16 73.56 L151.29 73.53 L151.43 73.50 L151.57 73.48 L151.70 73.46 L151.84 73.45 L151.98 73.44 L152.11 73.43 L152.25 73.42 L152.39 73.41 L152.52 73.41 L152.66 73.40 L152.80 73.40 L152.93 73.40 L153.07 73.40 L153.21 73.41 L153.34 73.41 L153.48 73.42 L153.62 73.42 L153.75 73.43 L153.89 73.44 L154.03 73.45 L154.16 73.47 L154.30 73.48 L154.44 73.50 L154.57 73.52 L154.71 73.54 L154.85 73.56 L154.98 73.58 L155.12 73.61 L155.26 73.64 L155.39 73.67 L155.53 73.71 L155.67 73.75 L155.80 73.79 L155.94 73.84 L156.08 73.89 L156.21 73.95 L156.35 74.02 L156.49 74.10 L156.62 74.18 L156.76 74.28 L156.90 74.39 L157.03 74.52 L157.17 74.67 L157.31 74.84 L157.44 75.05 L157.58 75.29 L157.72 75.57 L157.85 75.91 L157.99 76.32 L158.13 76.83 L158.26 77.44 L158.40 78.20 L158.54 79.13 L158.67 80.28 L158.81 81.67 L158.95 83.28 L159.08 85.04 L159.22 86.72 L159.36 87.99 L159.49 88.46 L159.63 87.99 L159.77 86.74 L159.90 85.06 L160.04 83.32 L160.18 81.71 L160.31 80.33 L160.45 79.19 L160.59 78.26 L160.72 77.51 L160.86 76.91 L161.00 76.41 L161.13 76.01 L161.27 75.68 L161.41 75.40 L161.54 75.17 L161.68 74.98 L161.82 74.81 L161.95 74.67 L162.09 74.55 L162.23 74.44 L162.36 74.35 L162.50 74.28 L162.64 74.21 L162.77 74.15 L162.91 74.09 L163.05 74.05 L163.18 74.00 L163.32 73.97 L163.46 73.93 L163.59 73.91 L163.73 73.88 L163.87 73.86 L164.00 73.83 L164.14 73.82 L164.28 73.80 L164.41 73.78 L164.55 73.77 L164.69 73.76 L164.82 73.75 L164.96 73.74 L165.10 73.73 L165.23 73.72 L165.37 73.72 L165.51 73.71 L165.64 73.71 L165.78 73.70 L165.92 73.70 L166.05 73.69 L166.19 73.69 L166.60 73.69 L167.28 73.68 L167.97 73.69 L168.65 73.70 L169.33 73.72 L170.02 73.73 L170.70 73.75 L171.38 73.77 L172.07 73.80 L172.75 73.82 L173.43 73.85 L174.12 73.88 L174.80 73.90 L175.48 73.93 L176.17 73.96 L176.85 73.99 L177.26 74.01 L177.40 74.02 L177.53 74.03 L177.67 74.03 L177.81 74.04 L177.94 74.05 L178.08 74.05 L178.22 74.06 L178.35 74.07 L178.49 74.07 L178.63 74.08 L178.76 74.09 L178.90 74.10 L179.04 74.10 L179.17 74.11 L179.31 74.12 L179.45 74.13 L179.58 74.14 L179.72 74.14 L179.86 74.15 L179.99 74.16 L180.13 74.17 L180.27 74.18 L180.40 74.19 L180.54 74.20 L180.68 74.21 L180.81 74.22 L180.95 74.23 L181.09 74.25 L181.22 74.26 L181.36 74.27 L181.50 74.29 L181.63 74.31 L181.77 74.32 L181.91 74.34 L182.04 74.37 L182.18 74.39 L182.32 74.42 L182.45 74.46 L182.59 74.50 L182.73 74.54 L182.86 74.60 L183.00 74.66 L183.14 74.74 L183.27 74.83 L183.41 74.94 L183.55 75.06 L183.68 75.18 L183.82 75.30 L183.96 75.39 L184.09 75.42 L184.23 75.40 L184.37 75.33 L184.50 75.22 L184.64 75.11 L184.78 75.00 L184.91 74.91 L185.05 74.83 L185.19 74.77 L185.32 74.72 L185.46 74.68 L185.60 74.64 L185.73 74.62 L185.87 74.60 L186.01 74.58 L186.14 74.57 L186.28 74.56 L186.42 74.55 L186.55 74.55 L186.69 74.54 L186.83 74.54 L186.96 74.54 L187.10 74.54 L187.24 74.54 L187.37 74.54 L187.51 74.55 L187.65 74.55 L187.78 74.55 L187.92 74.56 L188.06 74.56 L188.19 74.56 L188.33 74.57 L188.47 74.57 L188.60 74.58 L188.74 74.58 L188.88 74.59 L189.01 74.59 L189.15 74.60 L189.29 74.61 L189.42 74.61 L189.56 74.62 L189.70 74.62 L189.83 74.63 L189.97 74.64 L190.11 74.64 L190.24 74.65 L190.38 74.66 L190.52 74.66 L190.65 74.67 L190.79 74.68 L191.20 74.70 L191.88 74.73 L192.57 74.77 L193.25 74.80 L193.93 74.84 L194.62 74.88 L195.30 74.92 L195.98 74.96 L196.67 74.99 L197.35 75.03 L198.03 75.07 L198.72 75.12 L199.40 75.16 L200.08 75.20 L200.77 75.24 L201.45 75.28 L202.13 75.32 L202.82 75.37 L203.50 75.41 L204.18 75.46 L204.87 75.50 L205.55 75.55 L206.23 75.59 L206.92 75.64 L207.60 75.68 L208.28 75.73 L208.97 75.78 L209.65 75.82 L210.33 75.87 L211.02 75.92 L211.70 75.97 L212.38 76.02 L213.07 76.07 L213.75 76.12 L214.43 76.17 L215.12 76.22 L215.80 76.28 L216.48 76.33 L217.17 76.38 L217.85 76.44 L218.53 76.49 L219.22 76.54 L219.90 76.60 L220.58 76.66 L221.27 76.71 L221.95 76.77 L222.63 76.83 L223.32 76.89 L224.00 76.95 L224.68 77.01 L225.37 77.07 L226.05 77.13 L226.73 77.19 L227.42 77.25 L228.10 77.31 L228.78 77.38 L229.47 77.44 L230.15 77.51 L230.83 77.57 L231.52 77.64 L232.20 77.71 L232.88 77.78 L233.57 77.84 L234.25 77.91 L234.93 77.98 L235.62 78.06 L236.30 78.13 L236.98 78.20 L237.67 78.27 L238.35 78.35 L239.03 78.43 L239.72 78.50 L240.40 78.58 L241.08 78.66 L241.77 78.74 L242.45 78.82 L243.13 78.90 L243.82 78.98 L244.50 79.06 L245.18 79.15 L245.87 79.23 L246.55 79.32 L247.23 79.41 L247.92 79.50 L248.60 79.59 L249.28 79.68 L249.97 79.77 L250.65 79.86 L251.33 79.96 L252.02 80.05 L252.70 80.15 L253.38 80.25 L254.07 80.35 L254.75 80.45 L255.43 80.55 L256.12 80.66 L256.80 80.76 L257.48 80.87 L258.17 80.98 L258.30 81.00 L258.44 81.03 L258.58 81.05 L258.71 81.07 L258.85 81.10 L258.99 81.12 L259.12 81.14 L259.26 81.16 L259.40 81.19 L259.53 81.21 L259.67 81.24 L259.81 81.26 L259.94 81.28 L260.08 81.31 L260.22 81.33 L260.35 81.36 L260.49 81.38 L260.63 81.41 L260.76 81.43 L260.90 81.46 L261.04 81.49 L261.17 81.51 L261.31 81.54 L261.45 81.57 L261.58 81.60 L261.72 81.62 L261.86 81.65 L261.99 81.68 L262.13 81.72 L262.27 81.75 L262.40 81.78 L262.54 81.82 L262.68 81.85 L262.81 81.89 L262.95 81.93 L263.09 81.98 L263.22 82.02 L263.36 82.08 L263.50 82.13 L263.63 82.19 L263.77 82.26 L263.91 82.33 L264.04 82.41 L264.18 82.49 L264.32 82.58 L264.45 82.67 L264.59 82.75 L264.73 82.83 L264.86 82.89 L265.00 82.93 L265.14 82.94 L265.27 82.93 L265.41 82.90 L265.55 82.87 L265.68 82.82 L265.82 82.79 L265.96 82.75 L266.09 82.72 L266.23 82.70 L266.37 82.69 L266.50 82.67 L266.64 82.67 L266.78 82.67 L266.91 82.67 L267.05 82.68 L267.19 82.69 L267.32 82.70 L267.46 82.71 L267.60 82.72 L267.73 82.74 L267.87 82.76 L268.01 82.77 L268.14 82.79 L268.28 82.81 L268.42 82.84 L268.55 82.86 L268.69 82.88 L268.83 82.90 L268.96 82.92 L269.10 82.95 L269.24 82.97 L269.37 83.00 L269.51 83.02 L269.65 83.05 L269.78 83.07 L269.92 83.10 L270.06 83.12 L270.19 83.15 L270.33 83.17 L270.47 83.20 L270.60 83.23 L270.74 83.25 L270.88 83.28 L271.01 83.31 L271.15 83.33 L271.29 83.36 L271.42 83.39 L271.56 83.42 L271.70 83.44 L271.83 83.47 L272.52 83.61 L273.20 83.76 L273.88 83.90 L274.57 84.05 L275.25 84.21 L275.93 84.36 L276.62 84.52 L277.30 84.68 L277.98 84.84 L278.67 85.01 L279.35 85.18 L280.03 85.36 L280.72 85.53 L281.40 85.72 L281.54 85.75 L281.67 85.79 L281.81 85.83 L281.95 85.86 L282.08 85.90 L282.22 85.94 L282.36 85.98 L282.49 86.02 L282.63 86.06 L282.77 86.10 L282.90 86.14 L283.04 86.17 L283.18 86.21 L283.31 86.26 L283.45 86.30 L283.59 86.34 L283.72 86.38 L283.86 86.42 L284.00 86.46 L284.13 86.51 L284.27 86.55 L284.41 86.59 L284.54 86.64 L284.68 86.69 L284.82 86.73 L284.95 86.78 L285.09 86.83 L285.23 86.88 L285.36 86.93 L285.50 86.98 L285.64 87.04 L285.77 87.09 L285.91 87.15 L286.05 87.21 L286.18 87.27 L286.32 87.34 L286.46 87.41 L286.59 87.48 L286.73 87.56 L286.87 87.64 L287.00 87.73 L287.14 87.82 L287.28 87.91 L287.41 88.01 L287.55 88.10 L287.69 88.20 L287.82 88.29 L287.96 88.37 L288.10 88.45 L288.23 88.50 L288.37 88.55 L288.51 88.58 L288.64 88.59 L288.78 88.61 L288.92 88.61 L289.05 88.62 L289.19 88.63 L289.33 88.65 L289.46 88.67 L289.60 88.70 L289.74 88.74 L289.87 88.78 L290.01 88.84 L290.15 88.91 L290.28 88.99 L290.42 89.08 L290.56 89.18 L290.69 89.29 L290.83 89.42 L290.97 89.55 L291.10 89.69 L291.24 89.83 L291.38 89.95 L291.51 90.04 L291.65 90.10 L291.79 90.11 L291.92 90.10 L292.06 90.05 L292.20 89.99 L292.33 89.93 L292.47 89.86 L292.61 89.81 L292.74 89.76 L292.88 89.73 L293.02 89.71 L293.15 89.69 L293.29 89.69 L293.43 89.69 L293.56 89.69 L293.70 89.71 L293.84 89.72 L293.97 89.75 L294.11 89.77 L294.25 89.80 L294.38 89.83 L294.52 89.86 L294.66 89.89 L294.79 89.93 L294.93 89.97 L295.07 90.01 L295.20 90.05 L295.34 90.09 L295.48 90.13 L295.61 90.17 L295.75 90.22 L295.89 90.26 L296.02 90.31 L296.16 90.35 L296.30 90.40 L296.43 90.44 L296.57 90.49 L296.71 90.54 L296.84 90.59 L296.98 90.64 L297.12 90.68 L297.25 90.73 L297.39 90.78 L297.53 90.83 L297.66 90.88 L297.80 90.93 L297.94 90.99 L298.07 91.04 L298.21 91.09 L298.35 91.14 L298.48 91.19 L299.17 91.46 L299.85 91.73 L300.53 92.01 L301.22 92.29 L301.90 92.58 L302.58 92.88 L303.27 93.18 L303.95 93.49 L304.63 93.81 L305.32 94.13 L306.00 94.46 L306.68 94.79 L307.37 95.13 L308.05 95.48 L308.73 95.83 L309.42 96.19 L310.10 96.56 L310.78 96.94 L311.47 97.32 L312.15 97.72 L312.83 98.12 L313.52 98.53 L314.20 98.94 L314.88 99.37 L315.57 99.80 L316.25 100.25 L316.93 100.70 L317.62 101.17 L318.30 101.64 L318.98 102.12 L319.67 102.62 L320.35 103.12 L321.03 103.64 L321.72 104.17 L322.40 104.71 L323.08 105.26 L323.77 105.82 L324.45 106.40 L325.13 106.99 L325.82 107.59 L326.50 108.21 L327.18 108.84 L327.87 109.49 L328.55 110.15 L329.23 110.82 L329.92 111.52 L330.60 112.23 L331.28 112.95 L331.97 113.70 L332.65 114.46 L333.33 115.24 L334.02 116.04 L334.70 116.86 L335.38 117.70 L336.07 118.56 L336.75 119.44 L337.43 120.35 L338.12 121.27 L338.80 122.23 L339.48 123.20 L340.17 124.20 L340.85 125.23 L341.53 126.28 L342.22 127.36 L342.90 128.47 L343.58 129.60 L344.27 130.77 L344.95 131.97 L345.63 133.19 L346.32 134.46 L347.00 135.75 L347.68 137.08 L348.37 138.45 L349.05 139.85 L349.73 141.29 L350.42 142.77 L351.10 144.28 L351.78 145.84 L352.47 147.45 L353.15 149.09 L353.83 150.78 L354.52 152.51 L355.20 154.30 L355.88 156.13 L356.57 158.01 L357.25 159.94 L357.93 161.92 L358.62 163.95 L359.30 166.04 L359.98 168.18 L360.67 170.38 L361.35 172.64 L362.03 174.96 L362.72 177.33 L363.40 179.77 L364.08 182.26 L364.77 184.82 L365.45 187.44 L366.13 190.12 L366.82 192.86 L367.50 195.67 L368.18 198.54 L368.87 201.47 L369.55 204.47 L370.23 207.52 L370.92 210.63 L371.60 213.80 L372.28 217.03 L372.97 220.31 L373.65 223.65 L374.33 227.03 L375.02 230.46 L375.70 233.92 L376.38 237.43 L377.07 240.96 L377.75 244.53 L378.43 248.11 L379.12 251.71 L379.80 255.31 L380.48 258.92 L381.17 262.51 L381.85 266.09 L382.53 269.65 L383.22 273.17 L383.90 276.65 L384.58 280.08 L385.27 283.45 L385.95 286.75 L386.63 289.97 L387.32 293.11 L388.00 296.14 L388.68 299.08 L389.37 301.89 L390.05 304.59 L390.73 307.16 L391.42 309.59 L392.10 311.87 L392.78 314.00 L393.47 315.96 L394.15 317.75 L394.83 319.36 L395.52 320.77 L396.20 321.98 L396.88 322.98 L397.57 323.76 L398.25 324.30 L398.93 324.62 L399.62 324.70 L400.30 324.54 L400.98 324.15 L401.67 323.54 L402.35 322.70 L403.03 321.65 L403.72 320.40 L404.40 318.95 L405.08 317.33 L405.77 315.53 L406.45 313.57 L407.13 311.46 L407.27 311.02 L407.41 310.57 L407.54 310.12 L407.68 309.67 L407.82 309.20 L407.95 308.74 L408.09 308.26 L408.23 307.79 L408.36 307.30 L408.50 306.82 L408.64 306.32 L408.77 305.82 L408.91 305.32 L409.05 304.81 L409.18 304.30 L409.32 303.78 L409.46 303.26 L409.59 302.73 L409.73 302.20 L409.87 301.66 L410.00 301.13 L410.14 300.59 L410.28 300.05 L410.41 299.50 L410.55 298.95 L410.69 298.39 L410.82 297.83 L410.96 297.27 L411.10 296.70 L411.23 296.16 L411.37 295.62 L411.51 295.07 L411.64 294.52 L411.78 293.97 L411.92 293.42 L412.05 292.86 L412.19 292.31 L412.33 291.76 L412.46 291.20 L412.60 290.64 L412.74 290.08 L412.87 289.52 L413.01 288.95 L413.15 288.39 L413.28 287.82 L413.42 287.25 L413.56 286.71 L413.69 286.18 L413.83 285.64 L413.97 285.10 L414.10 284.56 L414.24 284.02 L414.38 283.48 L414.51 282.57 L414.65 281.64 L414.79 280.70 L414.92 279.76 L415.06 279.05 L415.20 278.33 L415.33 277.61 L415.47 276.89 L415.61 276.16 L415.74 275.43 L415.88 274.70 L416.02 273.97 L416.15 273.28 L416.29 272.60 L416.43 271.91 L416.56 271.22 L416.70 270.53 L416.84 269.84 L416.97 269.14 L417.11 268.45 L417.25 267.75 L417.38 267.06 L417.52 266.36 L417.66 265.66 L417.79 264.96 L417.93 264.26 L418.07 263.56 L418.20 262.85 L418.34 262.15 L418.48 261.45 L418.61 260.74 L418.75 260.04 L418.89 259.33 L419.02 258.63 L419.16 257.92 L419.30 257.22 L419.43 256.51 L419.57 255.82 L419.71 255.12 L419.84 254.42 L419.98 253.72 L420.12 253.02 L420.25 252.33 L420.39 251.63 L420.53 250.93 L420.66 250.24 L420.80 249.54 L420.94 248.85 L421.07 248.15 L421.21 247.46 L421.35 246.77 L421.48 246.08 L421.62 245.38 L421.76 244.69 L421.89 244.00 L422.03 243.31 L422.17 242.63 L422.85 239.22 L423.53 235.84 L424.22 232.50 L424.90 229.19 L425.58 225.93 L426.27 222.72 L426.95 219.55 L427.63 216.44 L428.32 213.37 L429.00 210.37 L429.68 207.41 L430.37 204.52 L431.05 201.68 L431.73 198.91 L432.42 196.19 L433.10 193.53 L433.78 190.93 L434.47 188.39 L435.15 185.91 L435.83 183.48 L436.52 181.12 L437.20 178.81 L437.88 176.55 L438.57 174.35 L439.25 172.21 L439.93 170.12 L440.62 168.08 L441.30 166.09 L441.98 164.16 L442.67 162.27 L443.35 160.43 L444.03 158.64 L444.72 156.89 L445.40 155.19 L446.08 153.53 L446.77 151.91 L447.45 150.34 L448.13 148.80 L448.82 147.31 L449.50 145.85 L450.18 144.43 L450.87 143.05 L451.55 141.70 L452.23 140.39 L452.92 139.11 L453.60 137.86 L454.28 136.65 L454.97 135.46 L455.65 134.30 L456.33 133.18 L457.02 132.08 L457.70 131.01 L458.38 129.96 L459.07 128.94 L459.75 127.95 L460.43 126.98 L461.12 126.03 L461.80 125.11 L462.48 124.20 L463.17 123.32 L463.85 122.47 L464.53 121.63 L465.22 120.81 L465.90 120.01 L466.58 119.23 L467.27 118.47 L467.95 117.72 L468.63 116.99 L469.32 116.28 L470.00 115.59 L470.68 114.91 L471.37 114.24 L472.05 113.60 L472.73 112.96 L473.42 112.34 L474.10 111.73 L474.78 111.14 L475.47 110.56 L476.15 109.99 L476.83 109.44 L477.52 108.90 L478.20 108.36 L478.88 107.84 L479.57 107.33 L480.25 106.84 L480.93 106.35 L481.62 105.87 L482.30 105.40 L482.98 104.94 L483.67 104.49 L484.35 104.05 L485.03 103.62 L485.72 103.20 L486.40 102.79 L487.08 102.38 L487.77 101.99 L488.45 101.60 L489.13 101.21 L489.82 100.84 L490.50 100.47" fill="none" stroke="#00f" stroke-width="1.1" stroke-linejoin="round"/>
<rect x="80.5" y="62.0" width="410.0" height="290.5" fill="none" stroke="#888" stroke-width="1"/>
<path d="M217.17 352.5 v-3 M217.17 62.0 v3 M353.83 352.5 v-3 M353.83 62.0 v3 M80.5 294.40 h3 M490.5 294.40 h-3 M80.5 236.30 h3 M490.5 236.30 h-3 M80.5 178.20 h3 M490.5 178.20 h-3 M80.5 120.10 h3 M490.5 120.10 h-3" stroke="#888" stroke-width="1" fill="none"/>
<rect x="215.5" y="62.0" width="55.0" height="290.5" fill="none" stroke="#000" stroke-opacity="0.5" stroke-width="1"/>
<rect x="380.0" y="62.0" width="54.5" height="290.5" fill="none" stroke="#000" stroke-opacity="0.5" stroke-width="1"/>
<rect x="94.5" y="265.5" width="102" height="72" fill="#fff" stroke="#8a8a8a" stroke-width="1"/>
<path d="M93.5 294.5 H121.5" stroke="#000" stroke-width="1"/>
<path d="M93.5 308.9 H121.5" stroke="#f00" stroke-width="1"/>
<path d="M93.5 323.3 H121.5" stroke="#00f" stroke-width="1"/>
<text transform="translate(68.30 371.80) scale(1.030 1)" text-anchor="start" style="font-family:'Liberation Serif',serif;font-size:14.4px;fill:#464646;letter-spacing:1.10px">160</text>
<text transform="translate(204.97 371.80) scale(1.030 1)" text-anchor="start" style="font-family:'Liberation Serif',serif;font-size:14.4px;fill:#464646;letter-spacing:1.10px">170</text>
<text transform="translate(341.63 371.80) scale(1.030 1)" text-anchor="start" style="font-family:'Liberation Serif',serif;font-size:14.4px;fill:#464646;letter-spacing:1.10px">180</text>
<text transform="translate(478.30 371.80) scale(1.030 1)" text-anchor="start" style="font-family:'Liberation Serif',serif;font-size:14.4px;fill:#464646;letter-spacing:1.10px">190</text>
<text transform="translate(73.40 66.90) scale(1.050 1)" text-anchor="end" style="font-family:'Liberation Serif',serif;font-size:15px;fill:#464646;letter-spacing:1.00px">1</text>
<text transform="translate(73.40 125.00) scale(1.050 1)" text-anchor="end" style="font-family:'Liberation Serif',serif;font-size:15px;fill:#464646;letter-spacing:1.00px">0.8</text>
<text transform="translate(73.40 183.10) scale(1.050 1)" text-anchor="end" style="font-family:'Liberation Serif',serif;font-size:15px;fill:#464646;letter-spacing:1.00px">0.6</text>
<text transform="translate(73.40 241.20) scale(1.050 1)" text-anchor="end" style="font-family:'Liberation Serif',serif;font-size:15px;fill:#464646;letter-spacing:1.00px">0.4</text>
<text transform="translate(73.40 299.30) scale(1.050 1)" text-anchor="end" style="font-family:'Liberation Serif',serif;font-size:15px;fill:#464646;letter-spacing:1.00px">0.2</text>
<text transform="translate(73.40 357.40) scale(1.050 1)" text-anchor="end" style="font-family:'Liberation Serif',serif;font-size:15px;fill:#464646;letter-spacing:1.00px">0</text>
<text transform="translate(222.50 387.60) scale(1.160 1)" text-anchor="start" style="font-family:'Liberation Serif',serif;font-size:15px;fill:#464646;letter-spacing:0.50px">Frequency</text>
<text transform="translate(308.30 387.60) scale(1.030 1)" text-anchor="start" style="font-family:'Liberation Serif',serif;font-size:15px;fill:#464646;letter-spacing:0.10px">(GHz)</text>
<text transform="translate(22.00 307.40) rotate(-90) scale(0.700 1)" text-anchor="start" style="font-family:'Liberation Serif',serif;font-size:15px;fill:#464646;letter-spacing:0.00px">A</text>
<text transform="translate(22.00 299.10) rotate(-90) scale(1.180 1)" text-anchor="start" style="font-family:'Liberation Serif',serif;font-size:15px;fill:#464646;letter-spacing:0.50px">tmospheric</text>
<text transform="translate(22.00 206.10) rotate(-90) scale(0.880 1)" text-anchor="start" style="font-family:'Liberation Serif',serif;font-size:15px;fill:#464646;letter-spacing:0.00px">T</text>
<text transform="translate(22.00 196.70) rotate(-90) scale(1.155 1)" text-anchor="start" style="font-family:'Liberation Serif',serif;font-size:15px;fill:#464646;letter-spacing:0.50px">ransmission</text>
<text transform="translate(129.00 275.20)" text-anchor="start" style="font-family:'Liberation Serif',serif;font-size:15px;fill:#464646;letter-spacing:0.00px">pwv</text>
<text transform="translate(134.00 298.60) scale(1.030 1)" text-anchor="start" style="font-family:'Liberation Serif',serif;font-size:15px;fill:#464646;letter-spacing:0.90px">0.2</text>
<text transform="translate(162.80 298.60) scale(1.200 1)" text-anchor="start" style="font-family:'Liberation Serif',serif;font-size:15px;fill:#464646;letter-spacing:0.60px">mm</text>
<text transform="translate(134.00 312.90) scale(1.030 1)" text-anchor="start" style="font-family:'Liberation Serif',serif;font-size:15px;fill:#464646;letter-spacing:0.90px">0.5</text>
<text transform="translate(162.80 312.90) scale(1.200 1)" text-anchor="start" style="font-family:'Liberation Serif',serif;font-size:15px;fill:#464646;letter-spacing:0.60px">mm</text>
<text transform="translate(134.00 327.50) scale(1.030 1)" text-anchor="start" style="font-family:'Liberation Serif',serif;font-size:15px;fill:#464646;letter-spacing:0.90px">1.0</text>
<text transform="translate(162.80 327.50) scale(1.200 1)" text-anchor="start" style="font-family:'Liberation Serif',serif;font-size:15px;fill:#464646;letter-spacing:0.60px">mm</text>
<text transform="translate(230.30 344.80)" text-anchor="start" style="font-family:'Liberation Serif',serif;font-size:15px;fill:#464646;letter-spacing:-0.60px">LSB</text>
<text transform="translate(392.80 344.80)" text-anchor="start" style="font-family:'Liberation Serif',serif;font-size:15px;fill:#464646;letter-spacing:-0.10px">USB</text>
</svg>
</body></html>
